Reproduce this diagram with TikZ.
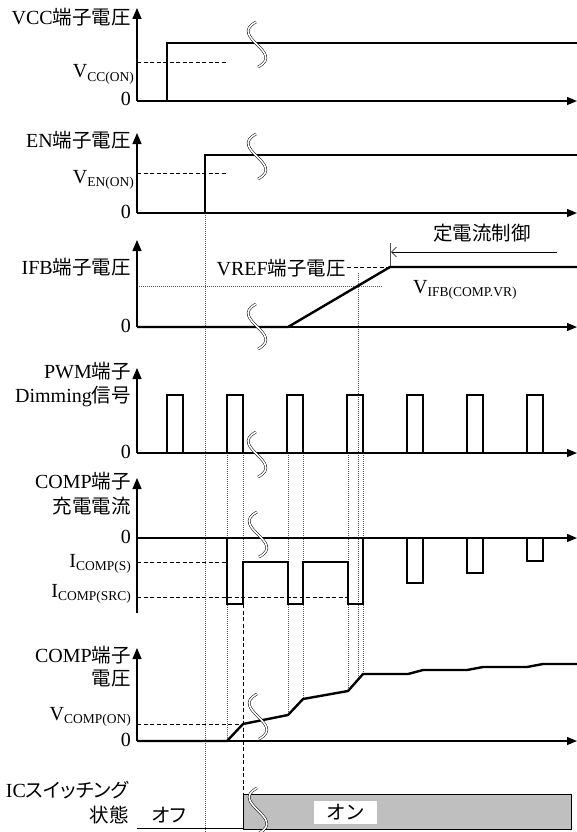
\documentclass[tikz,border=0pt]{standalone}
\usepackage{fontspec}
\setmainfont{Liberation Serif}
\newfontfamily\cjk{Noto Sans CJK JP}
\newfontfamily\cjkp[RawFeature=+palt]{Noto Sans CJK JP}
\usetikzlibrary{arrows.meta}
\newcommand\J[1]{{\cjk\fontsize{19.5}{20}\selectfont #1}}
\newcommand\JP[1]{{\cjkp\fontsize{19.5}{20}\selectfont #1}}
\newcommand\Sb[1]{\raisebox{-3.5pt}{\fontsize{13.5}{14}\selectfont #1}}
\tikzset{
  axis/.style={line width=1.3pt,-{Triangle[length=10pt,width=8pt]}},
  vax/.style={line width=1.3pt,-{Triangle[length=11pt,width=9pt]}},
  wave/.style={line width=2.4pt,line join=miter,line cap=butt},
  dsh/.style={line width=0.7pt,dash pattern=on 4pt off 2.5pt},
  dotl/.style={line width=0.6pt,dash pattern=on 1pt off 1pt,black!65},
  lbl/.style={anchor=base east,inner sep=0pt},
  lblw/.style={anchor=base west,inner sep=0pt},
  brk/.style={draw=black,line width=0.5pt,double=white,double distance=1.6pt},
  brkpic/.pic={\draw[brk] (0,0) .. controls (-28,15) and (30,30) .. (2,45);}
}
\begin{document}
\begin{tikzpicture}[x=1pt,y=-1pt,font=\fontsize{20}{21}\selectfont]
\useasboundingbox (0,0) rectangle (577,832);

% dotted verticals
\draw[dotl] (205,213) -- (205,832);
\draw[dotl] (227,453) -- (227,741);
\draw[dotl] (243,453) -- (243,604);
\draw[dotl] (288,453) -- (288,715);
\draw[dotl] (303,453) -- (303,699);
\draw[dotl] (348,453) -- (348,691);
\draw[dotl] (363,453) -- (363,674);
\draw[dotl] (358,273) -- (358,680);
\draw[dotl] (137,286) -- (383,286);
\draw[line width=0.5pt,black!70] (390,243) -- (390,267);

% dashed
\draw[dsh] (137,62) -- (227,62);
\draw[dsh] (137,173) -- (227,173);
\draw[dsh] (347,267) -- (390,267);
\draw[dsh] (137,562) -- (227,562);
\draw[dsh] (137,597) -- (348,597);
\draw[dsh] (137,724) -- (243,724);
\draw[dsh] (243,604) -- (243,794);

% VCC
\draw[vax] (137,101) -- (137,8);
\draw[axis] (137,101) -- (577,101);
\draw[wave] (137,101) -- (167,101) -- (167,43) -- (577,43);
% EN
\draw[vax] (137,213) -- (137,133);
\draw[axis] (137,213) -- (577,213);
\draw[wave] (137,213) -- (205,213) -- (205,155) -- (577,155);
% IFB
\draw[vax] (137,327) -- (137,240);
\draw[axis] (137,327) -- (577,327);
\draw[wave] (137,327) -- (288,327) -- (390,267) -- (577,267);
\draw[line width=0.6pt,-{Straight Barb[length=5pt,width=10pt]}] (557,252) -- (391,252);
% PWM
\draw[vax] (137,453) -- (137,368);
\draw[axis] (137,453) -- (577,453);
\draw[wave] (137,453)
  -- (167,453) -- (167,395) -- (183,395) -- (183,453)
  -- (227,453) -- (227,395) -- (243,395) -- (243,453)
  -- (287,453) -- (287,395) -- (303,395) -- (303,453)
  -- (347,453) -- (347,395) -- (363,395) -- (363,453)
  -- (407,453) -- (407,395) -- (423,395) -- (423,453)
  -- (467,453) -- (467,395) -- (483,395) -- (483,453)
  -- (527,453) -- (527,395) -- (543,395) -- (543,453) -- (566,453);
% COMP current
\draw[vax] (137,613) -- (137,478);
\draw[axis] (137,538) -- (577,538);
\draw[wave] (137,538) -- (227,538) -- (227,604) -- (243,604) -- (243,562)
  -- (288,562) -- (288,604) -- (303,604) -- (303,562)
  -- (348,562) -- (348,604) -- (363,604) -- (363,538)
  -- (407,538) -- (407,583) -- (423,583) -- (423,538)
  -- (467,538) -- (467,573) -- (483,573) -- (483,538)
  -- (527,538) -- (527,561) -- (543,561) -- (543,538) -- (566,538);
% COMP voltage
\draw[vax] (137,741) -- (137,648);
\draw[axis] (137,741) -- (577,741);
\draw[wave] (137,741) -- (227,741) -- (243,724) -- (288,715) -- (303,699)
  -- (348,691) -- (363,674) -- (408,674) -- (423,670) -- (467,670)
  -- (483,667) -- (527,667) -- (543,664) -- (577,664);
% IC state
\draw[line width=0.8pt] (137,828) -- (243,828);
\draw[line width=1pt,fill=black!25] (243,794) rectangle (571,829);
\node[fill=white,minimum width=63pt,minimum height=23pt,inner sep=0pt] (on) at (345.5,812.5) {\J{オン}};

% break marks
\pic at (256,22) {brkpic};
\pic at (256,134) {brkpic};
\pic at (256,304) {brkpic};
\pic at (256,432) {brkpic};
\pic at (257,512) {brkpic};
\pic at (257,694) {brkpic};
\pic at (257,788) {brkpic};

% labels
\node[lbl] (t1) at (131,25) {VCC\J{端子電圧}};
\node[lbl] (v1) at (134,78) {V\Sb{CC(ON)}};
\node[lbl] (z1) at (131,106) {0};
\node[lbl] (t2) at (131,147) {EN\J{端子電圧}};
\node[lbl] (v2) at (134,183) {V\Sb{EN(ON)}};
\node[lbl] (z2) at (131,218) {0};
\node[lbl] (t3) at (131,274) {IFB\J{端子電圧}};
\node[lbl] (vr) at (346,275) {VREF\J{端子電圧}};
\node[lblw] (vi) at (413,293) {V\Sb{IFB(COMP.VR)}};
\node[lblw] (cc) at (433,240) {\J{定電流制御}};
\node[lbl] (z3) at (131,332) {0};
\node[lbl] (t4a) at (131,378) {PWM\J{端子}};
\node[lbl] (t4b) at (131,402) {Dimming\J{信号}};
\node[lbl] (z4) at (131,458) {0};
\node[lbl] (t5a) at (131,488) {COMP\J{端子}};
\node[lbl] (t5b) at (131,513) {\J{充電電流}};
\node[lbl] (z5) at (131,543) {0};
\node[lbl] (is) at (131,567) {I\Sb{COMP(S)}};
\node[lbl] (isrc) at (131,597) {I\Sb{COMP(SRC)}};
\node[lbl] (t6a) at (131,662) {COMP\J{端子}};
\node[lbl] (t6b) at (131,685) {\J{電圧}};
\node[lbl] (vc) at (131,720) {V\Sb{COMP(ON)}};
\node[lbl] (z6) at (131,746) {0};
\node[lbl] (t7a) at (129,797) {IC\JP{スイッチング}};
\node[lbl] (t7b) at (129,822) {\J{状態}};
\node[lblw] (off) at (152,822) {\JP{オフ}};
\end{tikzpicture}
\end{document}
